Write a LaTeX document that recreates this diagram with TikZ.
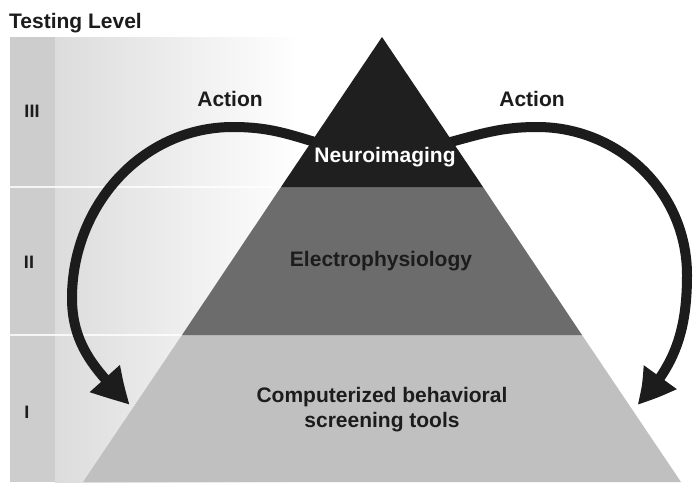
\documentclass[tikz,border=0pt]{standalone}
\usepackage{fontspec}
\setmainfont{Liberation Sans}
\usetikzlibrary{arrows.meta,bending}
\definecolor{topband}{HTML}{1F1F1F}
\definecolor{midband}{HTML}{6C6C6C}
\definecolor{lowband}{HTML}{C0C0C0}
\definecolor{colstrip}{HTML}{CDCDCD}
\definecolor{colfade}{HTML}{DCDCDC}
\definecolor{inkdark}{HTML}{1C1C1C}
\tikzset{
  lbl/.style={font=\bfseries\fontsize{21}{25}\selectfont, text=inkdark, inner sep=0pt, align=center},
  roman/.style={font=\bfseries\fontsize{18}{20}\selectfont, text=inkdark, inner sep=0pt},
  actarrow/.style={line width=10pt, draw=inkdark, -{Triangle[length=38pt,width=37pt,bend]}},
}
\begin{document}
\begin{tikzpicture}[x=1pt,y=-1pt]
\useasboundingbox (0,0) rectangle (696,482);
\fill[white] (0,0) rectangle (696,482);
% left testing-level column
\shade[left color=colfade, right color=white] (55,37) rectangle (300,482);
\fill[colstrip] (10,37) rectangle (55,482);
\draw[white, line width=1.2pt, opacity=0.8] (10,187) -- (300,187);
\draw[white, line width=1.2pt, opacity=0.8] (10,335) -- (300,335);
\node[lbl, anchor=base west] (title) at (9,28) {Testing Level};
\node[roman] (r3) at (32,111) {III};
\node[roman] (r2) at (29,262) {II};
\node[roman] (r1) at (27,412) {I};
% arrow way points
\coordinate (ls) at (318,143);
\coordinate (lt) at (233,127);
\coordinate (ll) at (72,298);
\coordinate (le) at (130,405);
\coordinate (rs) at (447,143);
\coordinate (rt) at (537,127);
\coordinate (rr) at (687,275);
\coordinate (re) at (637,405);
% arrows (drawn under the pyramid)
\draw[actarrow] (ls) to[out=163,in=0] (lt) to[out=180,in=90] (ll) to[out=-90,in=135] (le);
\draw[actarrow] (rs) to[out=15,in=180] (rt) to[out=0,in=90] (rr) to[out=-90,in=45] (re);
% pyramid
\coordinate (apex) at (382,37);
\coordinate (l2) at (281,187);
\coordinate (r2p) at (483,187);
\coordinate (l1) at (182,335);
\coordinate (r1p) at (582,335);
\coordinate (l0) at (83,482);
\coordinate (r0) at (681,482);
\fill[lowband] (l1) -- (r1p) -- (r0) -- (l0) -- cycle;
\fill[midband] (l2) -- (r2p) -- (r1p) -- (l1) -- cycle;
\fill[topband] (apex) -- (r2p) -- (l2) -- cycle;
\node[lbl, text=white] (neuro) at (385,157) {Neuroimaging};
\node[lbl] (electro) at (381,261) {Electrophysiology};
\node[lbl] (comp) at (382,410) {Computerized behavioral\\screening tools};
\node[lbl] (actl) at (230,99) {Action};
\node[lbl] (actr) at (532,99) {Action};
\end{tikzpicture}
\end{document}
